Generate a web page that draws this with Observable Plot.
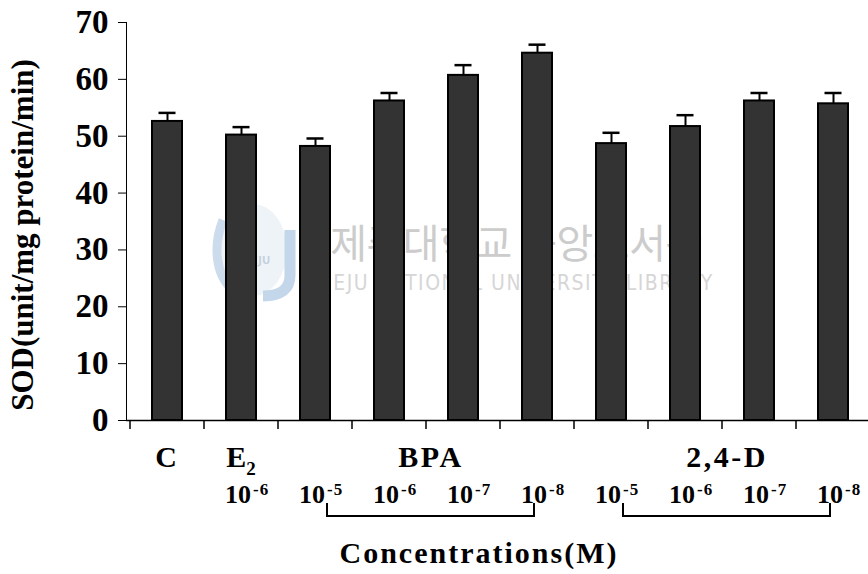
<!DOCTYPE html>
<html>
<head>
<meta charset="utf-8">
<script src="https://cdn.jsdelivr.net/npm/d3@7"></script>
<script src="https://cdn.jsdelivr.net/npm/@observablehq/plot@0.6"></script>
<style>
  html, body { margin: 0; padding: 0; background: #fff; overflow: hidden; }
  #chart svg { max-width: none !important; display: block; }
</style>
</head>
<body>
<div id="chart"></div>
<script>
// SOD activity per treatment (mean and standard error)
const categories = ["C", "E2 10-6", "BPA 10-5", "BPA 10-6", "BPA 10-7", "BPA 10-8",
                    "2,4-D 10-5", "2,4-D 10-6", "2,4-D 10-7", "2,4-D 10-8"];
const groups = ["C", "E2", "BPA", "BPA", "BPA", "BPA", "2,4-D", "2,4-D", "2,4-D", "2,4-D"];
const exponents = ["", "-6", "-5", "-6", "-7", "-8", "-5", "-6", "-7", "-8"];
const sodMeans = [52.6, 50.2, 48.2, 56.2, 60.7, 64.6, 48.7, 51.7, 56.2, 55.7];
const sodErrors = [1.5, 1.4, 1.4, 1.4, 1.8, 1.5, 1.9, 2.0, 1.4, 1.9];
const yTicks = [0, 10, 20, 30, 40, 50, 60, 70];
const yLabel = "SOD(unit/mg protein/min)";
const xLabel = "Concentrations(M)";
const watermarkKo = "제주대학교 중앙도서관";
const watermarkEn = "JEJU NATIONAL UNIVERSITY LIBRARY";

const serif = "'Liberation Serif', 'Times New Roman', serif";

const rows = categories.map((category, i) => ({
  category,
  sod: sodMeans[i],
  top: sodMeans[i] + sodErrors[i]
}));

// Faint library watermark drawn behind the bars
function watermark(index, scales, values, dims) {
  const cx = (dims.marginLeft + dims.width - dims.marginRight) / 2;
  const cy = (dims.marginTop + dims.height - dims.marginBottom) / 2;
  const g = d3.create("svg:g").attr("pointer-events", "none");
  const logo = g.append("g").attr("transform", `translate(${cx - 247},${cy + 29})`);
  logo.append("ellipse").attr("rx", 34).attr("ry", 46).attr("fill", "#eef3f8");
  logo.append("path")
    .attr("d", "M-30,-30 C-40,-5 -38,25 -20,40")
    .attr("fill", "none").attr("stroke", "#cddcec").attr("stroke-width", 9);
  logo.append("path")
    .attr("d", "M-6,-40 C-22,-20 -2,-2 -14,20 C-20,32 -10,40 -4,44")
    .attr("fill", "none").attr("stroke", "#b9c0c8").attr("stroke-width", 3);
  logo.append("path")
    .attr("d", "M37,-20 V25 Q37,46 10,46")
    .attr("fill", "none").attr("stroke", "#c3d6ea").attr("stroke-width", 11);
  logo.append("text").attr("x", 6).attr("y", 14).attr("text-anchor", "middle")
    .style("font-family", "'Noto Sans', sans-serif").style("font-size", "11px").style("font-weight", "bold")
    .attr("fill", "#c4cfdc").text("JEJU");
  g.append("text")
    .attr("x", cx + 16).attr("y", cy + 20)
    .attr("text-anchor", "middle").attr("dominant-baseline", "central")
    .style("font-family", "'Noto Sans CJK KR', sans-serif")
    .style("font-size", "40px").style("font-weight", "normal").style("letter-spacing", "-0.5px")
    .attr("fill", "#cccccc").text(watermarkKo);
  g.append("text")
    .attr("x", cx + 20).attr("y", cy + 62)
    .attr("text-anchor", "middle").attr("dominant-baseline", "central")
    .style("font-family", "'Liberation Sans Narrow', 'DejaVu Sans Condensed', sans-serif")
    .style("font-size", "21px").style("font-weight", "normal").style("letter-spacing", "1.5px")
    .attr("fill", "#d6d6d6").text(watermarkEn);
  return g.node();
}

// Category ticks, treatment labels, concentration labels, brackets and axis titles
function annotations(index, scales, values, dims) {
  const x = scales.x, y = scales.y;
  const bw = typeof x.bandwidth === "function" ? x.bandwidth() : x.bandwidth;
  const step = typeof x.step === "function" ? x.step() : x.step;
  const center = c => x(c) + bw / 2;
  const y0 = y(0);
  const g = d3.create("svg:g")
    .style("font-family", serif).style("font-weight", "bold").attr("fill", "#000");
  const text = (size) => g.append("text").style("font-size", `${size}px`);

  const edges = categories.map(c => x(c) - (step - bw) / 2)
    .concat([x(categories[categories.length - 1]) + bw + (step - bw) / 2]);
  g.append("g").selectAll("line").data(edges).join("line")
    .attr("x1", d => d).attr("x2", d => d)
    .attr("y1", y0).attr("y2", y0 + 9)
    .attr("stroke", "#000").attr("stroke-width", 1.5);

  const runs = d3.groups(categories.map((c, i) => ({c, group: groups[i]})), d => d.group);
  for (const [name, members] of runs) {
    const mid = d3.mean(members, m => center(m.c));
    const t = text(30).attr("y", y0 + 47).attr("text-anchor", "middle");
    if (name === "E2") {
      t.attr("x", mid);
      t.append("tspan").text("E");
      t.append("tspan").style("font-size", "19px").attr("dy", 8).text("2");
    } else if (members.length > 1) {
      t.attr("x", mid + 5).style("letter-spacing", "2.5px").text(name);
    } else {
      t.attr("x", mid - 1).text(name);
    }
    if (members.length > 1) {
      const x1 = center(members[0].c) + 12;
      const x2 = center(members[members.length - 1].c) - 3;
      g.append("path")
        .attr("d", `M${x1},${y0 + 83}V${y0 + 96}H${x2}V${y0 + 83}`)
        .attr("fill", "none").attr("stroke", "#000").attr("stroke-width", 2);
    }
  }

  categories.forEach((c, i) => {
    if (!exponents[i]) return;
    const cx = center(c);
    text(26).attr("x", cx + 10).attr("y", y0 + 83).attr("text-anchor", "end").text("10");
    text(17).attr("x", cx + 12).attr("y", y0 + 75).attr("text-anchor", "start")
      .style("letter-spacing", "1px").text(exponents[i]);
  });

  const [r0, r1] = x.range();
  text(30).attr("x", (r0 + r1) / 2 - 21).attr("y", y0 + 143)
    .attr("text-anchor", "middle").style("letter-spacing", "2px")
    .text(xLabel);

  const [yb, yt] = y.range();
  text(31).attr("transform", `translate(33,${(yb + yt) / 2 + 14}) rotate(-90)`)
    .attr("text-anchor", "middle")
    .text(yLabel);
  return g.node();
}

const chart = Plot.plot({
  width: 876,
  height: 574,
  marginLeft: 126,
  marginRight: 2,
  marginTop: 22,
  marginBottom: 154,
  style: {
    background: "#fff",
    color: "#000",
    fontFamily: serif,
    fontSize: "33px",
    fontWeight: "bold",
    maxWidth: "none",
    overflow: "visible"
  },
  x: {
    domain: categories,
    paddingInner: 0.6,
    paddingOuter: 0.3,
    axis: null
  },
  y: {
    domain: [0, 70],
    ticks: yTicks,
    tickFormat: d => String(d),
    tickSize: 8,
    tickPadding: 10,
    line: true,
    label: null
  },
  marks: [
    watermark,
    Plot.ruleX(rows, {x: "category", y1: "sod", y2: "top", stroke: "#000", strokeWidth: 2}),
    Plot.tickY(rows, {x: "category", y: "top", stroke: "#000", strokeWidth: 2.5, insetLeft: 6.5, insetRight: 6.5}),
    Plot.barY(rows, {x: "category", y: "sod", fill: "#333333", stroke: "#000", strokeWidth: 2}),
    Plot.ruleY([0], {stroke: "#000", strokeWidth: 1.5}),
    annotations
  ]
});

document.getElementById("chart").appendChild(chart);
</script>
</body>
</html>
